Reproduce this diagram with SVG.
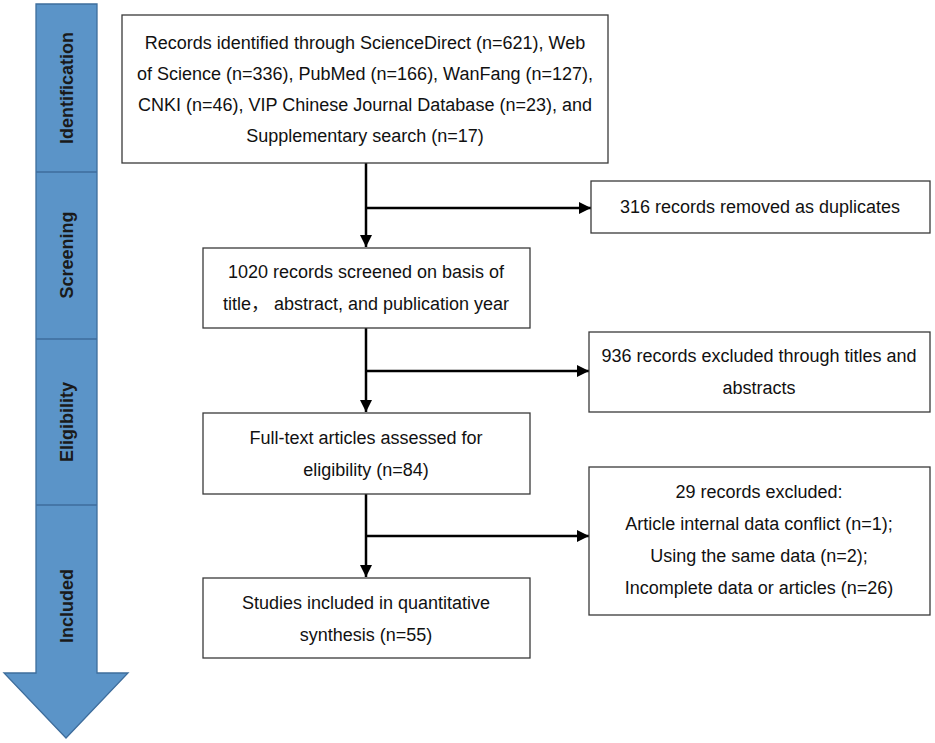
<svg xmlns="http://www.w3.org/2000/svg" width="935" height="743" viewBox="0 0 935 743">
<defs>
<style>
.box{fill:#fff;stroke:#3a3a3a;stroke-width:1.3}
.t{font-family:"Liberation Sans","Noto Sans CJK SC",Arial,sans-serif;font-size:18px;fill:#111;text-anchor:middle;dominant-baseline:central}
.lab{font-family:"Liberation Sans",Arial,sans-serif;font-size:18px;font-weight:bold;fill:#1a1a1a;text-anchor:middle;dominant-baseline:central}
.c{stroke:#000;stroke-width:2.5;fill:none}
</style>
<marker id="ah" viewBox="0 0 10 10" refX="10" refY="5" markerWidth="4.8" markerHeight="4.8" markerUnits="strokeWidth" orient="auto">
<path d="M0,0 L10,5 L0,10 z" fill="#000"/>
</marker>
</defs>
<g id="stage-arrow">
<path d="M36,4 H97 V673 H128 L66,738 L4,673 H36 Z" fill="#5b94c8" stroke="#3e6d9c" stroke-width="1.3"/>
<line x1="36" y1="172" x2="97" y2="172" stroke="#3e6d9c" stroke-width="1.3"/>
<line x1="36" y1="339" x2="97" y2="339" stroke="#3e6d9c" stroke-width="1.3"/>
<line x1="36" y1="505" x2="97" y2="505" stroke="#3e6d9c" stroke-width="1.3"/>
<text class="lab" transform="translate(67,88) rotate(-90)">Identification</text>
<text class="lab" transform="translate(67,255) rotate(-90)">Screening</text>
<text class="lab" transform="translate(67,422) rotate(-90)">Eligibility</text>
<text class="lab" transform="translate(67,606) rotate(-90)">Included</text>
</g>
<g id="connectors">
<line class="c" x1="366" y1="163" x2="366" y2="247" marker-end="url(#ah)"/>
<line class="c" x1="366" y1="208" x2="591" y2="208" marker-end="url(#ah)"/>
<line class="c" x1="366" y1="328" x2="366" y2="412" marker-end="url(#ah)"/>
<line class="c" x1="366" y1="371" x2="589" y2="371" marker-end="url(#ah)"/>
<line class="c" x1="366" y1="494" x2="366" y2="577" marker-end="url(#ah)"/>
<line class="c" x1="366" y1="536" x2="589" y2="536" marker-end="url(#ah)"/>
</g>
<g id="n-identified">
<rect class="box" x="122" y="15" width="486" height="148"/>
<text class="t" x="365" y="42.5">Records identified through ScienceDirect (n=621), Web</text>
<text class="t" x="365" y="73.5">of Science (n=336), PubMed (n=166), WanFang (n=127),</text>
<text class="t" x="365" y="104.5">CNKI (n=46), VIP Chinese Journal Database (n=23), and</text>
<text class="t" x="365" y="135.5">Supplementary search (n=17)</text>
</g>
<g id="n-duplicates">
<rect class="box" x="591" y="181" width="339" height="52"/>
<text class="t" x="760" y="207">316 records removed as duplicates</text>
</g>
<g id="n-screened">
<rect class="box" x="203" y="248" width="327" height="80"/>
<text class="t" x="366" y="272">1020 records screened on basis of</text>
<text class="t" x="366" y="304">title， abstract, and publication year</text>
</g>
<g id="n-excluded-titles">
<rect class="box" x="589" y="332" width="341" height="80"/>
<text class="t" x="759" y="356">936 records excluded through titles and</text>
<text class="t" x="759" y="388">abstracts</text>
</g>
<g id="n-fulltext">
<rect class="box" x="203" y="413" width="327" height="81"/>
<text class="t" x="366" y="438">Full-text articles assessed for</text>
<text class="t" x="366" y="470">eligibility (n=84)</text>
</g>
<g id="n-excluded-29">
<rect class="box" x="589" y="467" width="341" height="148"/>
<text class="t" x="759" y="492">29 records excluded:</text>
<text class="t" x="759" y="523.5">Article internal data conflict (n=1);</text>
<text class="t" x="759" y="556">Using the same data (n=2);</text>
<text class="t" x="759" y="588">Incomplete data or articles  (n=26)</text>
</g>
<g id="n-included">
<rect class="box" x="203" y="578" width="327" height="80"/>
<text class="t" x="366" y="603">Studies included in quantitative</text>
<text class="t" x="366" y="635">synthesis (n=55)</text>
</g>
</svg>
